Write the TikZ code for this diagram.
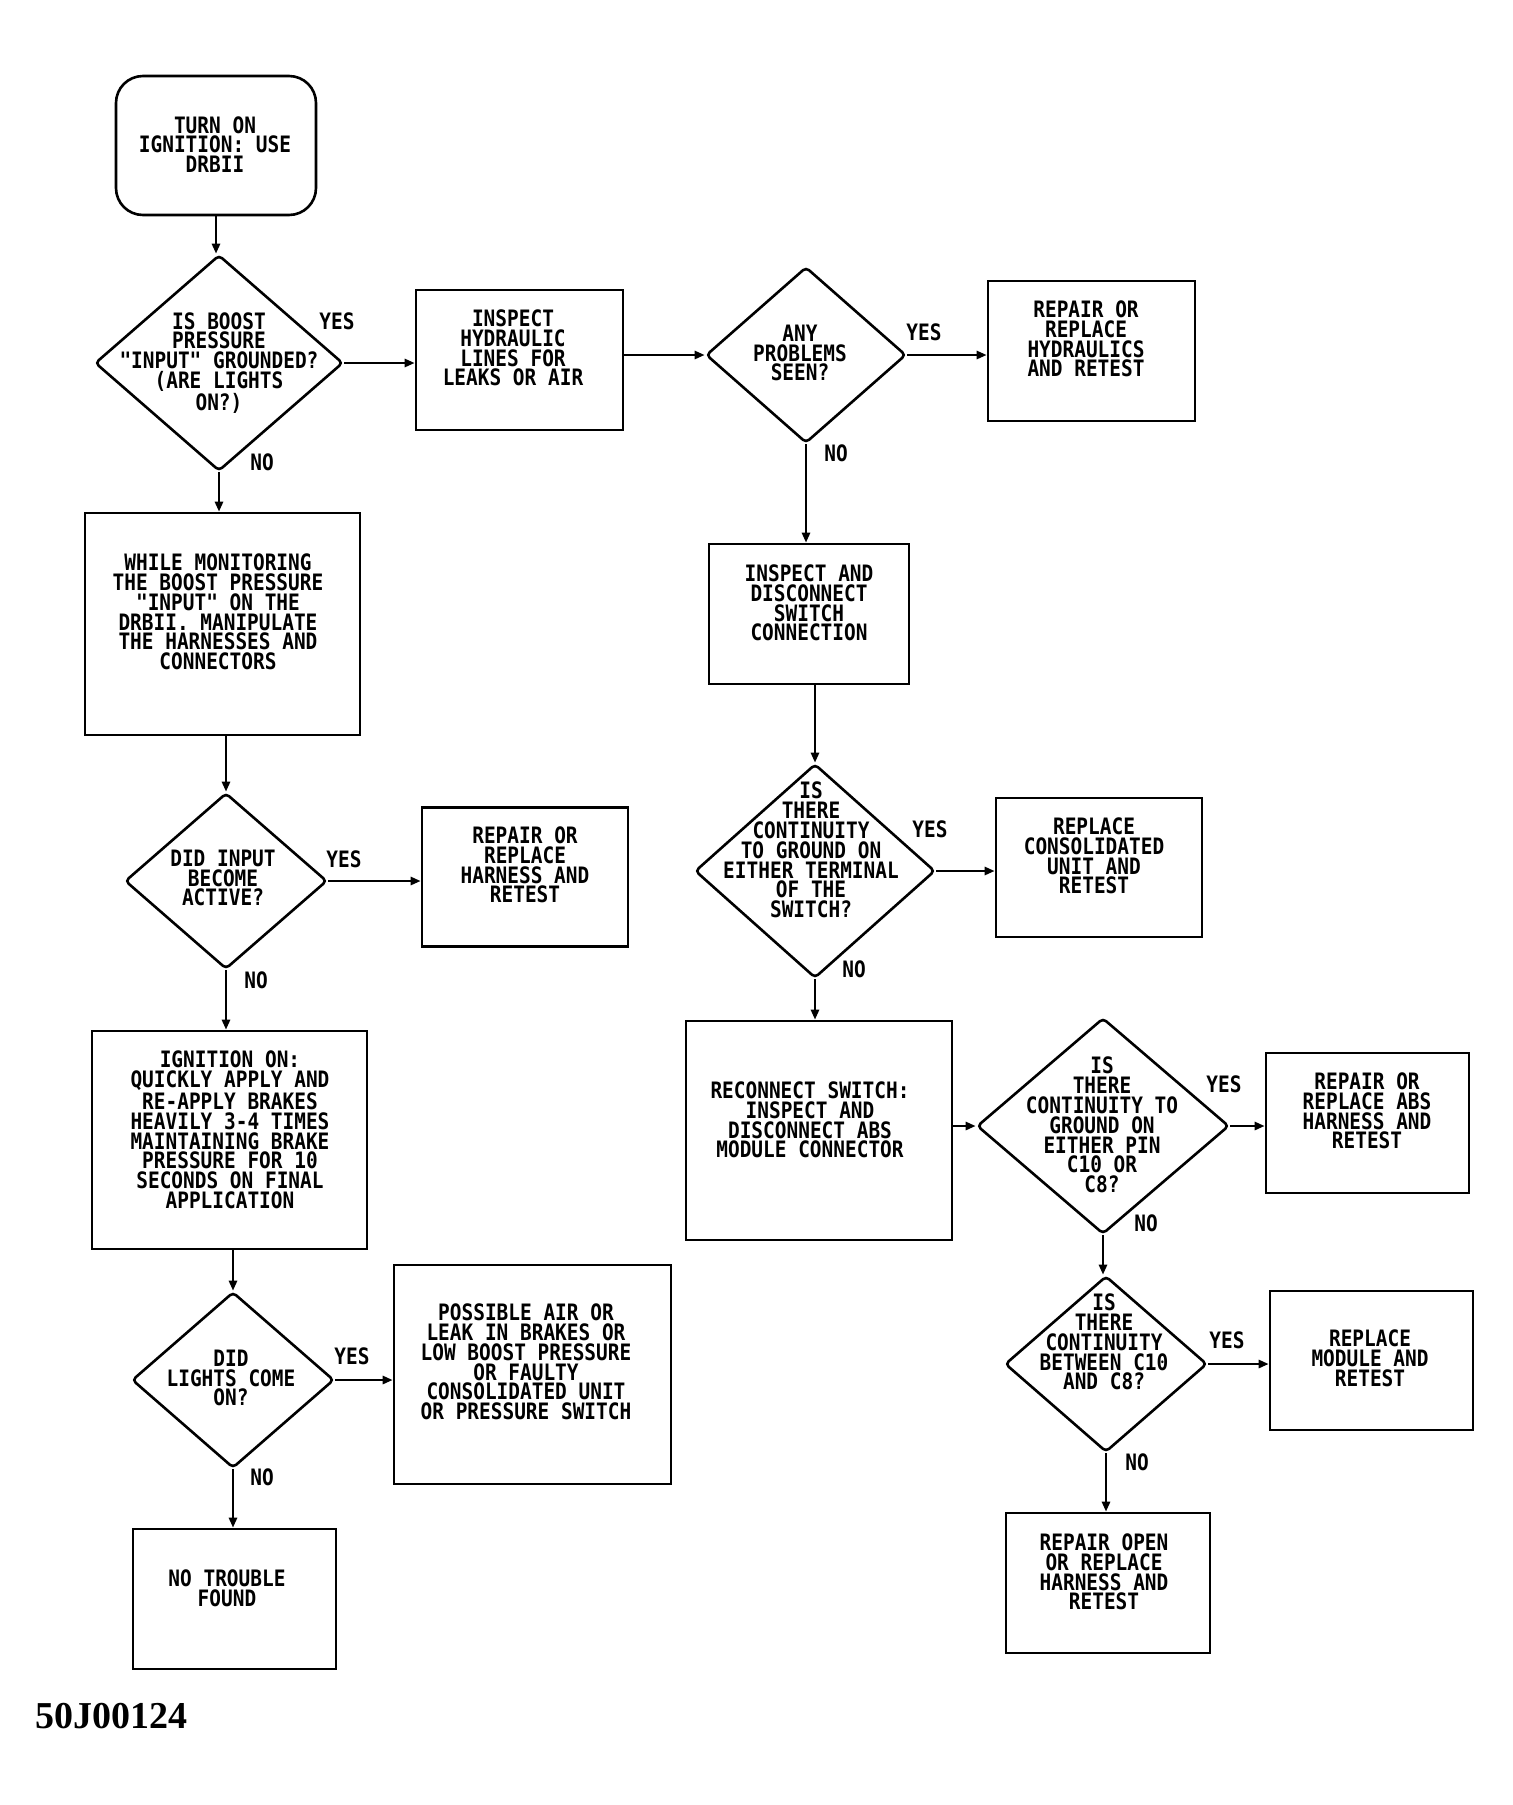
\documentclass[tikz,border=0pt]{standalone}
\usepackage{fontspec}
\usetikzlibrary{arrows.meta,shapes.geometric}
\newfontfamily\cadfont[FakeStretch=0.86]{DejaVu Sans Mono}
\newfontfamily\tagfont{Liberation Serif}
\begin{document}
\begin{tikzpicture}[x=0.5pt,y=-0.5pt,
  every node/.style={inner sep=0pt},
  box/.style={draw,line width=1.3pt,rectangle},
  startbox/.style={draw,line width=1.3pt,rectangle,rounded corners=13.5pt},
  dia/.style={draw,line width=1.3pt,diamond,rounded corners=2pt},
  txt/.style={align=center,font=\cadfont\bfseries\fontsize{11.3}{9.9}\selectfont},
  lbl/.style={font=\cadfont\bfseries\fontsize{11.3}{9.9}\selectfont},
  arr/.style={line width=1.3pt,-{Triangle[length=5pt,width=4pt]}}]
\useasboundingbox (0,0) rectangle (1512,1805);
% boxes
\node[startbox,minimum width=100pt,minimum height=69.5pt] (start) at (216,145.5) {};
\node[box,minimum width=103.5pt,minimum height=70pt] (hyd) at (519.5,360) {};
\node[box,minimum width=103.5pt,minimum height=70pt] (rephyd) at (1091.5,351) {};
\node[box,minimum width=137.5pt,minimum height=111pt] (wm) at (222.5,624) {};
\node[box,minimum width=103pt,minimum height=69.5pt] (reph) at (525,877) {};
\node[box,minimum width=100pt,minimum height=70pt] (idc) at (809,614) {};
\node[box,minimum width=103pt,minimum height=69.5pt] (rcu) at (1099,867.5) {};
\node[box,minimum width=137.5pt,minimum height=109pt] (ign) at (229.5,1140) {};
\node[box,minimum width=138.5pt,minimum height=109.5pt] (poss) at (532.5,1374.5) {};
\node[box,minimum width=101.5pt,minimum height=70pt] (ntf) at (234.5,1599) {};
\node[box,minimum width=133pt,minimum height=109.5pt] (rec) at (819,1130.5) {};
\node[box,minimum width=101.5pt,minimum height=70pt] (rabs) at (1367.5,1123) {};
\node[box,minimum width=101.5pt,minimum height=69.5pt] (rmod) at (1371.5,1360.5) {};
\node[box,minimum width=102pt,minimum height=70pt] (ropen) at (1108,1583) {};
% diamonds
\node[dia,minimum width=124pt,minimum height=108pt] (d1) at (219,363) {};
\node[dia,minimum width=100pt,minimum height=88pt] (dap) at (806,355) {};
\node[dia,minimum width=101pt,minimum height=88pt] (d2) at (226,881) {};
\node[dia,minimum width=120pt,minimum height=107pt] (d3) at (815,871) {};
\node[dia,minimum width=101pt,minimum height=88pt] (d4) at (233,1380) {};
\node[dia,minimum width=126pt,minimum height=108pt] (d5) at (1103,1126) {};
\node[dia,minimum width=101pt,minimum height=88pt] (d6) at (1106,1364) {};
% texts
\node[txt] (start-t) at (215,144.5) {TURN ON\\IGNITION: USE\\DRBII};
\node[txt] (d1-t) at (219,363) {IS BOOST\\PRESSURE\\"INPUT" GROUNDED?\\(ARE LIGHTS\\ON?)};
\node[txt] (hyd-t) at (513,348) {INSPECT\\HYDRAULIC\\LINES FOR\\LEAKS OR AIR};
\node[txt] (dap-t) at (800,353) {ANY\\PROBLEMS\\SEEN?};
\node[txt] (rephyd-t) at (1086,339) {REPAIR OR\\REPLACE\\HYDRAULICS\\AND RETEST};
\node[txt] (wm-t) at (218,612) {WHILE MONITORING\\THE BOOST PRESSURE\\"INPUT" ON THE\\DRBII. MANIPULATE\\THE HARNESSES AND\\CONNECTORS};
\node[txt] (d2-t) at (223,878) {DID INPUT\\BECOME\\ACTIVE?};
\node[txt] (reph-t) at (525,865) {REPAIR OR\\REPLACE\\HARNESS AND\\RETEST};
\node[txt] (idc-t) at (809,603) {INSPECT AND\\DISCONNECT\\SWITCH\\CONNECTION};
\node[txt] (d3-t) at (811,850) {IS\\THERE\\CONTINUITY\\TO GROUND ON\\EITHER TERMINAL\\OF THE\\SWITCH?};
\node[txt] (rcu-t) at (1094,856) {REPLACE\\CONSOLIDATED\\UNIT AND\\RETEST};
\node[txt] (ign-t) at (230,1130) {IGNITION ON:\\QUICKLY APPLY AND\\RE-APPLY BRAKES\\HEAVILY 3-4 TIMES\\MAINTAINING BRAKE\\PRESSURE FOR 10\\SECONDS ON FINAL\\APPLICATION};
\node[txt] (d4-t) at (231,1378) {DID\\LIGHTS COME\\ON?};
\node[txt] (poss-t) at (526,1362) {POSSIBLE AIR OR\\LEAK IN BRAKES OR\\LOW BOOST PRESSURE\\OR FAULTY\\CONSOLIDATED UNIT\\OR PRESSURE SWITCH};
\node[txt] (ntf-t) at (227,1588) {NO TROUBLE\\FOUND};
\node[txt] (rec-t) at (810,1120) {RECONNECT SWITCH:\\INSPECT AND\\DISCONNECT ABS\\MODULE CONNECTOR};
\node[txt] (d5-t) at (1102,1125) {IS\\THERE\\CONTINUITY TO\\GROUND ON\\EITHER PIN\\C10 OR\\C8?};
\node[txt] (rabs-t) at (1367,1111) {REPAIR OR\\REPLACE ABS\\HARNESS AND\\RETEST};
\node[txt] (d6-t) at (1104,1342) {IS\\THERE\\CONTINUITY\\BETWEEN C10\\AND C8?};
\node[txt] (rmod-t) at (1370,1358) {REPLACE\\MODULE AND\\RETEST};
\node[txt] (ropen-t) at (1104,1572) {REPAIR OPEN\\OR REPLACE\\HARNESS AND\\RETEST};
% yes / no labels
\node[lbl] (y1) at (337,321) {YES};
\node[lbl] (n1) at (262,462) {NO};
\node[lbl] (yap) at (924,332) {YES};
\node[lbl] (nap) at (836,453) {NO};
\node[lbl] (y2) at (344,859) {YES};
\node[lbl] (n2) at (256,980) {NO};
\node[lbl] (y3) at (930,829) {YES};
\node[lbl] (n3) at (854,969) {NO};
\node[lbl] (y4) at (352,1356) {YES};
\node[lbl] (n4) at (262,1477) {NO};
\node[lbl] (y5) at (1224,1084) {YES};
\node[lbl] (n5) at (1146,1223) {NO};
\node[lbl] (y6) at (1227,1340) {YES};
\node[lbl] (n6) at (1137,1462) {NO};
% figure tag
\node[font=\tagfont\bfseries\fontsize{19}{19}\selectfont] (tag) at (111,1716) {50J00124};
% connectors
\draw[arr] (start.south) -- (start.south |- d1.north);
\draw[arr] (d1.east) -- (d1.east -| hyd.west);
\draw[arr] (dap.west -| hyd.east) -- (dap.west);
\draw[arr] (dap.east) -- (dap.east -| rephyd.west);
\draw[arr] (dap.south) -- (dap.south |- idc.north);
\draw[arr] (d3.north |- idc.south) -- (d3.north);
\draw[arr] (d3.east) -- (d3.east -| rcu.west);
\draw[arr] (d3.south) -- (d3.south |- rec.north);
\draw[arr] (d5.west -| rec.east) -- (d5.west);
\draw[arr] (d5.east) -- (d5.east -| rabs.west);
\draw[arr] (d5.south) -- (d5.south |- d6.north);
\draw[arr] (d6.east) -- (d6.east -| rmod.west);
\draw[arr] (d6.south) -- (d6.south |- ropen.north);
\draw[arr] (d1.south) -- (d1.south |- wm.north);
\draw[arr] (d2.north |- wm.south) -- (d2.north);
\draw[arr] (d2.east) -- (d2.east -| reph.west);
\draw[arr] (d2.south) -- (d2.south |- ign.north);
\draw[arr] (d4.north |- ign.south) -- (d4.north);
\draw[arr] (d4.east) -- (d4.east -| poss.west);
\draw[arr] (d4.south) -- (d4.south |- ntf.north);
\end{tikzpicture}
\end{document}
